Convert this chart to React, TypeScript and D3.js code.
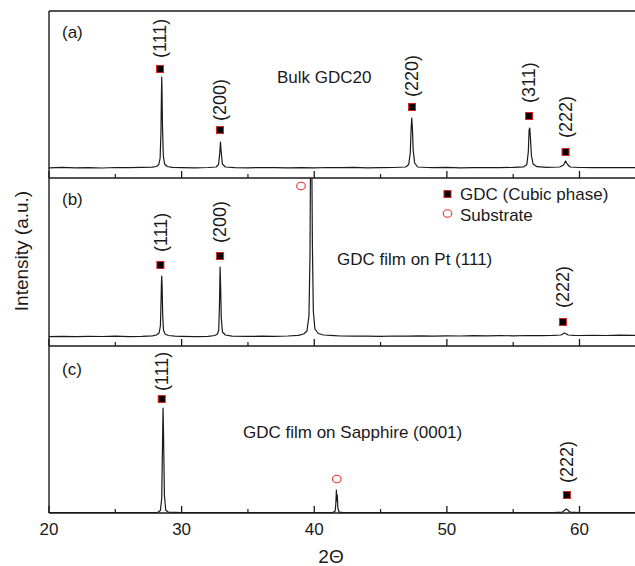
import React from "react";
import * as d3 from "d3";

// ---------- data ----------
const xMajorTicks = [20, 30, 40, 50, 60];
const xMinorTicks = [25, 35, 45, 55, 65];
const xTickLabels = ["20", "30", "40", "50", "60"];

// Panel (a) Bulk GDC20 : [2theta, intensity]
const seriesA: [number, number][] = [
  [20, 10.2], [21, 10.6], [22, 10.1], [23, 10.4], [24, 10.0], [25, 10.5], [26, 10.3], [27, 10.6],
  [27.8, 10.8], [28.1, 11.5], [28.28, 13.5], [28.38, 20], [28.44, 45], [28.48, 85], [28.5, 101],
  [28.52, 88], [28.56, 50], [28.62, 22], [28.72, 14], [28.9, 11.5], [29.3, 10.6], [30, 10.4],
  [31, 10.2], [32, 10.5], [32.6, 11], [32.78, 13.5], [32.87, 24], [32.93, 36], [32.99, 25],
  [33.07, 14], [33.3, 11], [34, 10.4], [35, 10.2], [36, 10.5], [37, 10.3], [38, 10.1], [39, 10.4],
  [40, 10.2], [41, 10.5], [42, 10.3], [43, 10.6], [44, 10.2], [45, 10.4], [46, 10.5], [46.9, 11],
  [47.12, 13.5], [47.24, 25], [47.3, 48], [47.35, 60], [47.4, 50], [47.46, 28], [47.57, 15],
  [47.8, 11], [48.5, 10.5], [49, 10.3], [50, 10.6], [51, 10.2], [52, 10.4], [53, 10.5], [54, 10.3],
  [55, 10.6], [55.8, 11.2], [56.03, 13.5], [56.14, 26], [56.2, 48], [56.25, 50], [56.3, 40],
  [56.38, 22], [56.5, 14], [56.8, 11.3], [57.5, 10.6], [58.5, 11], [58.8, 13], [58.95, 17],
  [59.1, 13.5], [59.3, 11], [60, 10.5], [61, 10.3], [62, 10.5], [63, 10.3], [64, 10.4], [65, 10.3],
];

// Panel (b) GDC film on Pt (111)
const seriesB: [number, number][] = [
  [20, 9.4], [21, 9.7], [22, 9.3], [23, 9.6], [24, 9.5], [25, 9.8], [26, 9.4], [27, 9.7],
  [27.8, 10.2], [28.1, 11], [28.3, 13], [28.4, 20], [28.45, 45], [28.48, 64], [28.5, 70],
  [28.53, 60], [28.57, 32], [28.63, 16], [28.75, 12], [29.0, 10.5], [29.5, 9.8], [30, 9.6],
  [31, 9.4], [32, 9.7], [32.5, 10.5], [32.7, 12], [32.8, 16], [32.86, 45], [32.9, 79],
  [32.94, 60], [32.99, 28], [33.08, 14], [33.3, 11], [33.8, 9.9], [35, 9.6], [36, 9.8],
  [37, 9.7], [38, 10.0], [38.8, 10.6], [39.2, 12], [39.45, 15], [39.6, 30], [39.68, 90],
  [39.73, 220], [39.8, 220], [39.86, 100], [39.93, 35], [40.05, 17], [40.3, 12.5], [40.7, 11],
  [41.5, 10.3], [42, 10.0], [43, 9.8], [44, 9.9], [45, 9.7], [46, 10.0], [47, 9.8], [48, 10.1],
  [49, 9.9], [50, 10.2], [51, 10.0], [52, 10.3], [53, 10.1], [54, 10.4], [55, 10.2], [56, 10.5],
  [57, 10.3], [58, 10.6], [58.6, 11], [58.8, 12.5], [58.87, 13], [58.95, 12.5], [59.15, 11],
  [59.6, 10.6], [60, 10.5], [61, 10.7], [62, 10.5], [63, 10.8], [64, 10.6], [65, 10.7],
];

// Panel (c) GDC film on Sapphire (0001)
const seriesC: [number, number][] = [
  [20, 0.4], [22, 0.5], [24, 0.4], [26, 0.5], [27.5, 0.5], [28.2, 0.7], [28.4, 2.5], [28.5, 15],
  [28.56, 70], [28.6, 105], [28.64, 75], [28.7, 18], [28.8, 3], [29.0, 0.8], [30, 0.5], [32, 0.4],
  [34, 0.5], [36, 0.4], [38, 0.5], [40, 0.4], [41.4, 0.5], [41.58, 2], [41.63, 10], [41.67, 23],
  [41.71, 12], [41.74, 18], [41.78, 5], [41.88, 0.8], [42.2, 0.5], [44, 0.4], [46, 0.5], [48, 0.4],
  [50, 0.5], [52, 0.4], [54, 0.5], [56, 0.4], [58, 0.5], [58.7, 0.8], [58.85, 2.5], [59.0, 4],
  [59.15, 2.5], [59.3, 0.8], [60, 0.5], [62, 0.4], [64, 0.5], [65, 0.4],
];

// markers: phase squares  [2theta, y-value]; substrate circles
const cubicA: [number, number][] = [[28.37, 109], [32.89, 48], [47.37, 71], [56.2, 62], [58.95, 26]];
const cubicB: [number, number][] = [[28.4, 81], [32.9, 90], [58.75, 24]];
const cubicC: [number, number][] = [[28.5, 114], [59.05, 18]];
const substrateB: [number, number][] = [[39.0, 160]];
const substrateC: [number, number][] = [[41.7, 34]];

// hkl labels: [2theta, value at text start, text]
const hklA: [number, number, string][] = [
  [28.37, 120, "(111)"], [32.89, 57, "(200)"], [47.37, 81, "(220)"], [56.2, 75, "(311)"], [58.95, 40, "(222)"],
];
const hklB: [number, number, string][] = [[28.4, 94, "(111)"], [32.9, 103, "(200)"], [58.75, 38, "(222)"]];
const hklC: [number, number, string][] = [[28.5, 122, "(111)"], [59.05, 30, "(222)"]];

const panelLetters = ["(a)", "(b)", "(c)"];
const panelTitles = ["Bulk GDC20", "GDC film on Pt (111)", "GDC film on Sapphire (0001)"];
const legendLabels = ["GDC (Cubic phase)", "Substrate"];

// ---------- layout ----------
const W = 635;
const H = 566;
const left = 49;
const panelTops = [11, 178, 346];
const panelBottoms = [178, 346, 513];
const FONT = "Arial, 'Liberation Sans', Helvetica, sans-serif";
const INK = "#1a1a1a";

const x = d3.scaleLinear().domain([20, 60]).range([left, 579.5]);

export default function App() {
  const panels = [
    { series: seriesA, cubic: cubicA, sub: [] as [number, number][], hkl: hklA },
    { series: seriesB, cubic: cubicB, sub: substrateB, hkl: hklB },
    { series: seriesC, cubic: cubicC, sub: substrateC, hkl: hklC },
  ];
  const titlePos = [
    { x: 277, y: 83 },
    { x: 337, y: 265 },
    { x: 243, y: 438 },
  ];
  const letterY = [38, 205, 375];

  return (
    <svg width={W} height={H} style={{ position: "absolute", left: 0, top: 0, background: "#fff" }}
      fontFamily={FONT}>
      <defs>
        {panels.map((_, i) => (
          <clipPath id={`clip${i}`} key={i}>
            <rect x={left} y={panelTops[i]} width={W - left} height={panelBottoms[i] - panelTops[i]} />
          </clipPath>
        ))}
      </defs>
      <rect x={0} y={0} width={W} height={H} fill="#fff" />
      {panels.map((p, i) => {
        const y = d3.scaleLinear().domain([0, 167]).range([panelBottoms[i], panelBottoms[i] - 167]);
        const line = d3.line<[number, number]>().x((d) => x(d[0])).y((d) => y(d[1]));
        return (
          <g key={i}>
            <path d={line(p.series) || ""} fill="none" stroke={INK} strokeWidth={1.2}
              clipPath={`url(#clip${i})`} strokeLinejoin="round" />
            {/* bottom axis line */}
            <line x1={left} x2={W} y1={panelBottoms[i]} y2={panelBottoms[i]} stroke={INK} strokeWidth={1.4} />
            {xMajorTicks.map((t) => (
              <line key={"M" + t} x1={x(t)} x2={x(t)} y1={panelBottoms[i]} y2={panelBottoms[i] - 7}
                stroke={INK} strokeWidth={1.3} />
            ))}
            {xMinorTicks.map((t) => (
              <line key={"m" + t} x1={x(t)} x2={x(t)} y1={panelBottoms[i]} y2={panelBottoms[i] - 4}
                stroke={INK} strokeWidth={1.2} />
            ))}
            {p.cubic.map((d, k) => (
              <rect key={"c" + k} x={x(d[0]) - 3.5} y={y(d[1]) - 3.5} width={7} height={7}
                fill="#000" stroke="#e0201c" strokeWidth={1} />
            ))}
            {p.sub.map((d, k) => (
              <ellipse key={"s" + k} cx={x(d[0])} cy={y(d[1])} rx={4.3} ry={3.8}
                fill="none" stroke="#ee2a24" strokeWidth={1.1} />
            ))}
            {p.hkl.map((d, k) => (
              <text key={"h" + k} transform={`translate(${x(d[0])},${y(d[1])}) rotate(-90)`}
                dy="0.35em" fontSize={18} fill={INK}>
                {d[2]}
              </text>
            ))}
            <text x={62} y={letterY[i]} fontSize={17} fill={INK}>{panelLetters[i]}</text>
            <text x={titlePos[i].x} y={titlePos[i].y} fontSize={17} fill={INK}>{panelTitles[i]}</text>
          </g>
        );
      })}
      {/* frame */}
      <line x1={left} x2={W} y1={panelTops[0]} y2={panelTops[0]} stroke={INK} strokeWidth={1.4} />
      <line x1={left} x2={left} y1={panelTops[0]} y2={panelBottoms[2]} stroke={INK} strokeWidth={1.4} />

      {/* legend */}
      <rect x={447.5 - 3.5} y={194 - 3.5} width={7} height={7} fill="#000" stroke="#e0201c" strokeWidth={1} />
      <text x={460} y={199.5} fontSize={17} fill={INK}>{legendLabels[0]}</text>
      <ellipse cx={447.5} cy={213.5} rx={4.3} ry={3.8} fill="none" stroke="#ee2a24" strokeWidth={1.1} />
      <text x={460} y={221} fontSize={17} fill={INK}>{legendLabels[1]}</text>

      {/* x tick labels */}
      {xMajorTicks.map((t, k) => (
        <text key={t} x={x(t)} y={535} fontSize={17} textAnchor="middle" fill={INK}>{xTickLabels[k]}</text>
      ))}
      <text x={331} y={563} fontSize={19} textAnchor="middle" fill={INK}>2Θ</text>
      <text transform={`translate(28,251) rotate(-90)`} fontSize={19} textAnchor="middle" fill={INK}>
        Intensity (a.u.)
      </text>
    </svg>
  );
}
